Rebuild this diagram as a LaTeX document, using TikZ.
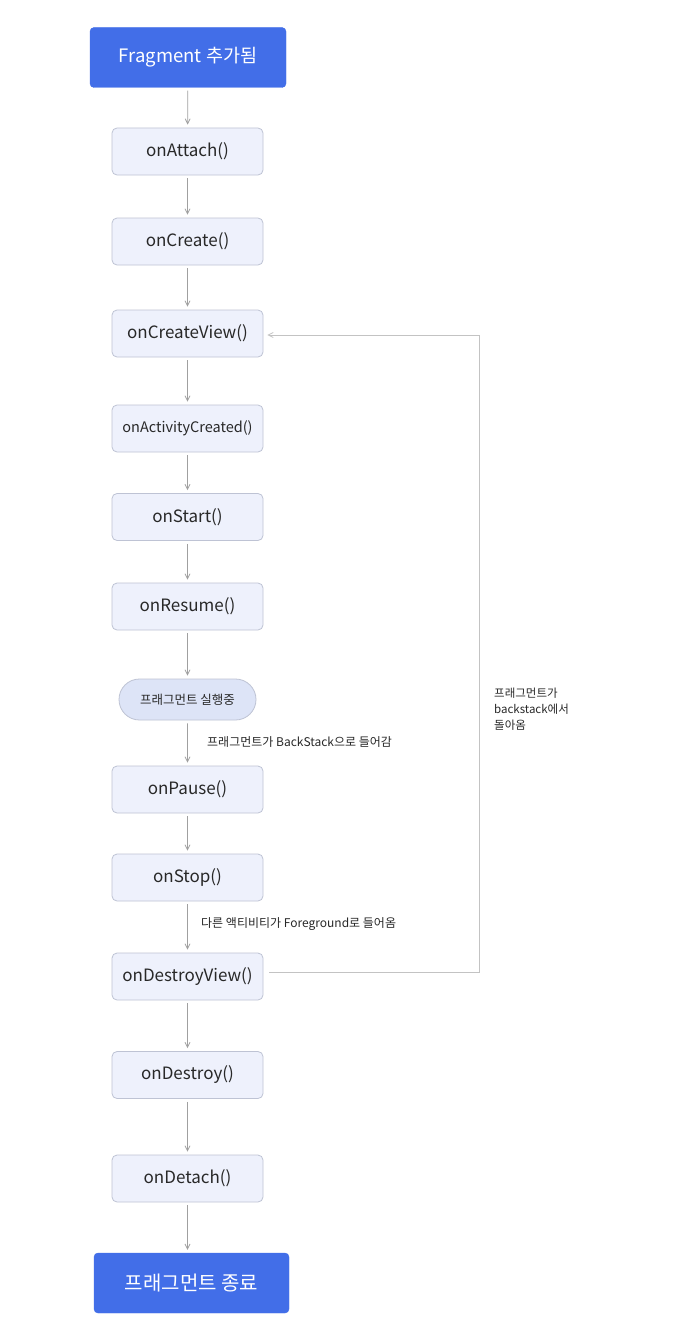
\documentclass[tikz,border=0pt]{standalone}
\usepackage{fontspec}
\setmainfont{Noto Sans CJK KR}
\usetikzlibrary{arrows.meta,shapes.misc}
\definecolor{bluefill}{RGB}{66,110,232}
\definecolor{boxfill}{RGB}{238,241,252}
\definecolor{boxline}{RGB}{190,195,212}
\definecolor{ellfill}{RGB}{221,228,247}
\definecolor{arr}{RGB}{160,160,160}
\definecolor{loopc}{RGB}{195,195,195}
\definecolor{txt}{RGB}{40,40,40}
\tikzset{
  endbox/.style={draw=bluefill, fill=bluefill, rounded corners=4pt, minimum width=196pt, minimum height=60pt, text=white, font=\fontsize{18.5}{22}\selectfont, inner sep=0pt},
  stepbox/.style={draw=boxline, fill=boxfill, rounded corners=5pt, minimum width=151pt, minimum height=47pt, text=txt, font=\fontsize{17}{20}\selectfont, inner sep=0pt, line width=0.8pt},
  runbox/.style={draw=boxline, fill=ellfill, rounded rectangle, minimum width=137pt, minimum height=41pt, text=txt, font=\fontsize{12.5}{14}\selectfont, inner sep=0pt, line width=0.8pt},
  flow/.style={draw=arr, line width=0.8pt, -{Straight Barb[length=5pt,width=5pt]}, shorten <=3pt, shorten >=3pt},
  loopline/.style={draw=loopc, line width=1pt},
  lbl/.style={text=txt, font=\fontsize{12}{15}\selectfont, inner sep=0pt, anchor=west},
}
\begin{document}
\begin{tikzpicture}[x=1pt,y=-1pt]
\useasboundingbox[fill=white] (0,0) rectangle (700,1335);
\node[endbox] (start) at (188,57.5) {Fragment 추가됨};
\node[stepbox] (attach) at (187.5,151.5) {onAttach()};
\node[stepbox] (create) at (187.5,241.5) {onCreate()};
\node[stepbox] (cview) at (187.5,333.5) {onCreateView()};
\node[stepbox, font=\fontsize{14.5}{17}\selectfont] (actc) at (187.5,428.5) {onActivityCreated()};
\node[stepbox] (startc) at (187.5,517) {onStart()};
\node[stepbox] (resume) at (187.5,606.5) {onResume()};
\node[runbox] (run) at (187.5,699.5) {프래그먼트 실행중};
\node[stepbox] (pause) at (187.5,789.5) {onPause()};
\node[stepbox] (stop) at (187.5,877.5) {onStop()};
\node[stepbox] (dview) at (187.5,976.5) {onDestroyView()};
\node[stepbox] (destroy) at (187.5,1075) {onDestroy()};
\node[stepbox] (detach) at (187.5,1178.5) {onDetach()};
\node[endbox, minimum width=195pt, font=\fontsize{20}{24}\selectfont] (fin) at (191.5,1283) {프래그먼트 종료};

\draw[flow] (start) -- (attach);
\draw[flow] (attach) -- (create);
\draw[flow] (create) -- (cview);
\draw[flow] (cview) -- (actc);
\draw[flow] (actc) -- (startc);
\draw[flow] (startc) -- (resume);
\draw[flow] (resume) -- (run);
\draw[flow] (run) -- (pause);
\draw[flow] (pause) -- (stop);
\draw[flow] (stop) -- (dview);
\draw[flow] (dview) -- (destroy);
\draw[flow] (destroy) -- (detach);
\draw[flow] (detach.south) -- (detach.south |- fin.north);

\node[lbl] (l1) at (207,742) {프래그먼트가 BackStack으로 들어감};
\node[lbl] (l2) at (201,924) {다른 액티비티가 Foreground로 들어옴};

\coordinate (c1) at (479,972);
\coordinate (c2) at (479,335);
\draw[loopline] (dview.east |- c1) ++(6,0) -- (c1) -- (c2) -- ([xshift=8pt]cview.east |- c2);
\draw[draw=loopc, line width=0.8pt, -{Straight Barb[length=5pt,width=5pt]}] ([xshift=10pt]cview.east |- c2) -- ([xshift=4pt]cview.east |- c2);
\node[lbl, align=left, anchor=north west, font=\fontsize{11.5}{16}\selectfont] (l3) at (494,688) {프래그먼트가\\backstack에서\\돌아옴};
\end{tikzpicture}
\end{document}
